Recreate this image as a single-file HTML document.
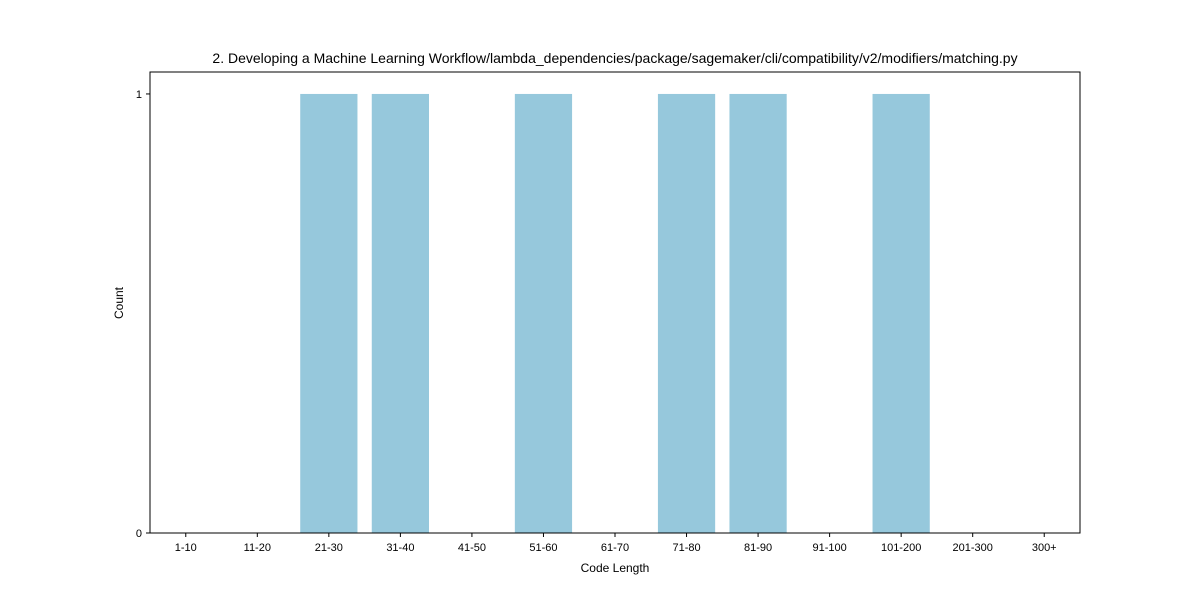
<!DOCTYPE html>
<html><head><meta charset="utf-8"><style>
html,body{margin:0;padding:0;background:#fff;width:1200px;height:600px;overflow:hidden}
text{font-family:"Liberation Sans",sans-serif;fill:#000}
</style></head><body>
<svg id="chart" width="1200" height="600" xmlns="http://www.w3.org/2000/svg">
<text x="615" y="63" text-anchor="middle" font-size="14">2. Developing a Machine Learning Workflow/lambda_dependencies/package/sagemaker/cli/compatibility/v2/modifiers/matching.py</text>
<g id="bars"></g>
<rect x="150" y="72" width="930" height="461" fill="none" stroke="#000" stroke-width="1"/>
<g id="xt"></g><g id="yt"></g>
<text x="615" y="572" text-anchor="middle" font-size="12">Code Length</text>
<text x="123" y="303" text-anchor="middle" font-size="12" transform="rotate(-90 123 303)">Count</text>
</svg>
<script>
const categories=["1-10","11-20","21-30","31-40","41-50","51-60","61-70","71-80","81-90","91-100","101-200","201-300","300+"];
const counts=[0,0,1,1,0,1,0,1,1,0,1,0,0];
const yTicks=[0,1];
const NS="http://www.w3.org/2000/svg";
const L=150,R=1080,T=72,B=533;
const ymin=0,ymax=1.05;
const step=(R-L)/categories.length;
const xC=i=>L+step*(i+0.5);
const y=v=>B-(v-ymin)/(ymax-ymin)*(B-T);
function mk(t,a,p){const e=document.createElementNS(NS,t);for(const k in a)e.setAttribute(k,a[k]);p.appendChild(e);return e;}
const bars=document.getElementById('bars'),xt=document.getElementById('xt'),yt=document.getElementById('yt');
categories.forEach((c,i)=>{
  const w=step*0.8;
  const r=mk('rect',{x:xC(i)-w/2,y:Math.min(y(counts[i]),y(0)),width:w,height:Math.abs(y(0)-y(counts[i])),fill:'#96c8dc'},bars);
  
  
  const tk=mk('line',{x1:xC(i),x2:xC(i),y1:B,y2:B+4,stroke:'#000'},xt);
  
  
  const t=mk('text',{x:xC(i),y:B+18,'text-anchor':'middle','font-size':'11'},xt);
  t.textContent=c;
  
  
});
yTicks.forEach(v=>{
  const tk=mk('line',{x1:L-4,x2:L,y1:y(v),y2:y(v),stroke:'#000'},yt);
  
  
  const t=mk('text',{x:L-8,y:y(v)+4,'text-anchor':'end','font-size':'11'},yt);
  t.textContent=v;
  
  
});
</script>
</body></html>
